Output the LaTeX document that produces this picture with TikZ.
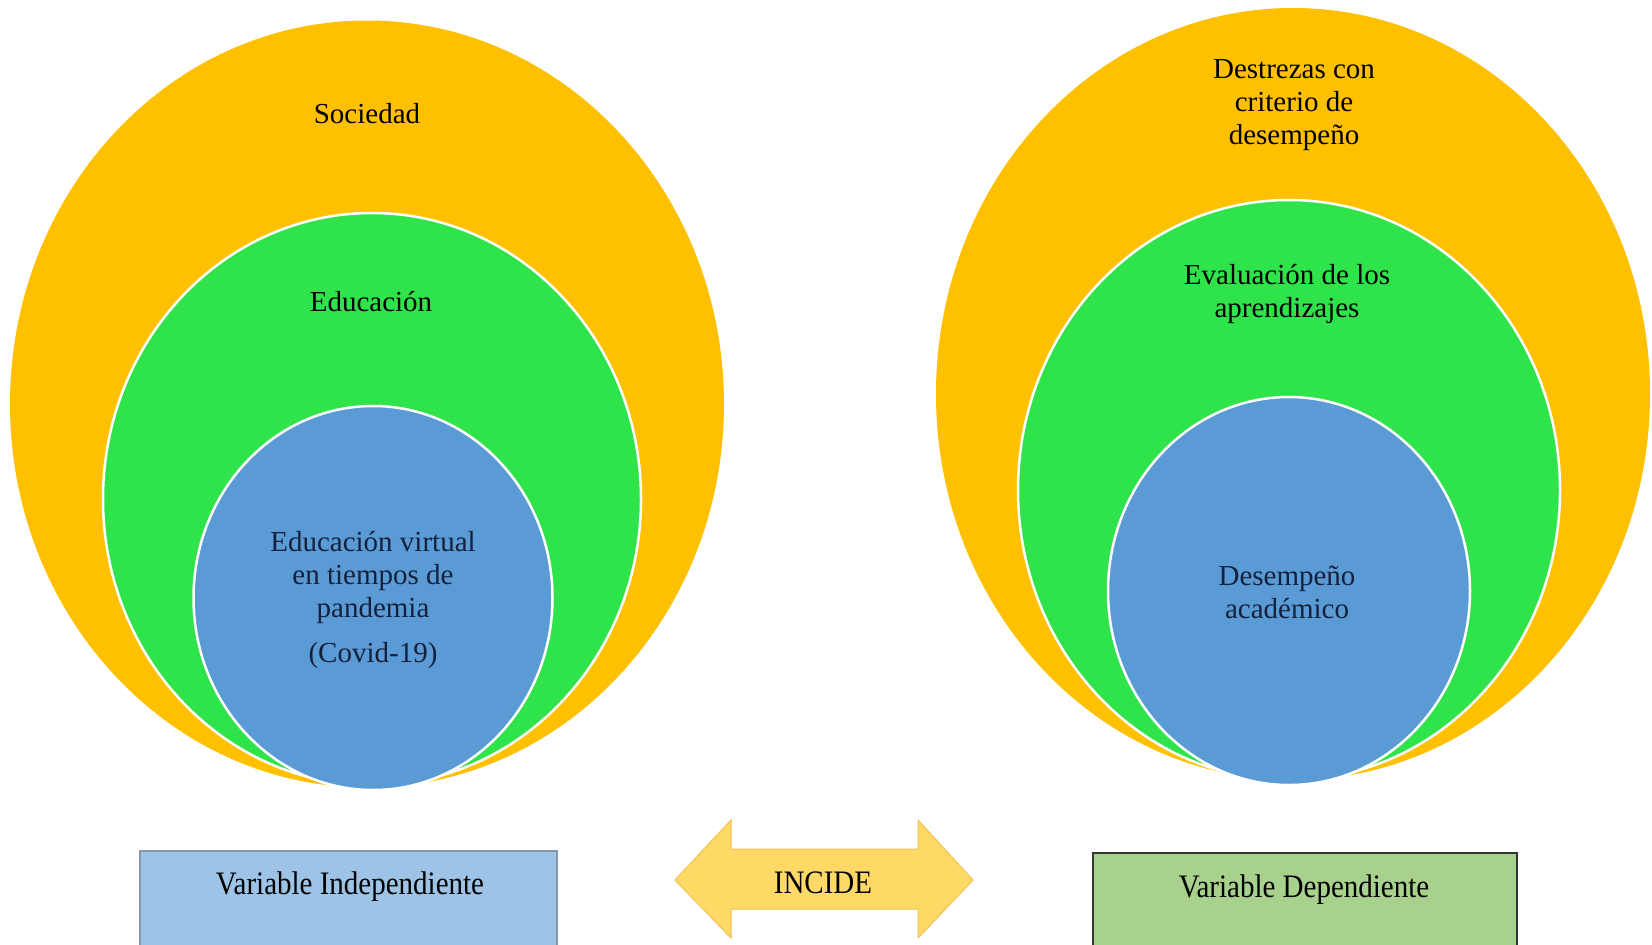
\documentclass[tikz,border=0pt]{standalone}
\usepackage{fontspec}
\setmainfont{Liberation Serif}
\usetikzlibrary{shapes.geometric}
\definecolor{cyel}{HTML}{FFC000}
\definecolor{cgrn}{HTML}{2FE34A}
\definecolor{cblu}{HTML}{5B9BD5}
\definecolor{cnavy}{HTML}{14213D}
\definecolor{boxblu}{HTML}{9DC3E6}
\definecolor{boxblub}{HTML}{8497B0}
\definecolor{boxgrn}{HTML}{A9D18E}
\definecolor{boxgrnb}{HTML}{2E3A2E}
\definecolor{arrowy}{HTML}{FFD966}
\definecolor{arrowb}{HTML}{F2C14E}
\tikzset{
  ell/.style={ellipse, inner sep=0pt, outer sep=0pt},
  outerell/.style={ell, fill=cyel},
  midell/.style={ell, fill=cgrn, draw=white, line width=2.5pt},
  innerell/.style={ell, fill=cblu, draw=white, line width=2.5pt},
  lbl/.style={font=\fontsize{29}{33}\selectfont, align=center, inner sep=0pt, text=black},
  lblin/.style={lbl, text=cnavy},
  varbox/.style={rectangle, inner sep=0pt, line width=1.2pt}
}
\newcommand{\tallish}[1]{\scalebox{1}[1.13]{#1}}
\begin{document}
\begin{tikzpicture}[x=1pt,y=-1pt]
\useasboundingbox[fill=white] (0,0) rectangle (1652,945);
% left set
\node[outerell, minimum width=714pt, minimum height=767pt] (lo) at (367,404) {};
\node[midell, minimum width=538pt, minimum height=572pt] (lm) at (372,499) {};
\node[innerell, minimum width=359pt, minimum height=384pt] (li) at (373,598) {};
\node[lbl] (tso) at (367,114) {Sociedad};
\node[lbl] (ted) at (371,302) {Educación};
\node[lblin] (tev) at (373,577) {Educación virtual\\en tiempos de\\pandemia};
\node[lblin] (tcv) at (373,656) {(Covid-19)};
% right set
\node[outerell, minimum width=714pt, minimum height=772pt] (ro) at (1293,394) {};
\node[midell, minimum width=542pt, minimum height=580pt] (rm) at (1289,490) {};
\node[innerell, minimum width=362pt, minimum height=388pt] (ri) at (1289,591) {};
\node[lbl] (tde) at (1294,105) {Destrezas con\\criterio de\\desempeño};
\node[lbl] (tea) at (1287,294) {Evaluación de los\\aprendizajes};
\node[lblin] (tda) at (1287,592) {Desempeño\\académico};
% bottom boxes
\draw[varbox, fill=boxblu, draw=boxblub] (140,851) rectangle (557,948);
\node[lbl] (vi) at (350,887) {\tallish{Variable Independiente}};
\draw[varbox, fill=boxgrn, draw=boxgrnb] (1093,853) rectangle (1517,948);
\node[lbl] (vd) at (1304,890) {\tallish{Variable Dependiente}};
% double arrow
\draw[fill=arrowy, draw=arrowb, line width=1pt, line join=miter]
  (675,880) -- (731,820) -- (731,849) -- (918,849) -- (918,820) -- (973,880)
  -- (918,938) -- (918,909) -- (731,909) -- (731,938) -- cycle;
\node[lbl] (inc) at (823,883) {\tallish{INCIDE}};
\end{tikzpicture}
\end{document}
